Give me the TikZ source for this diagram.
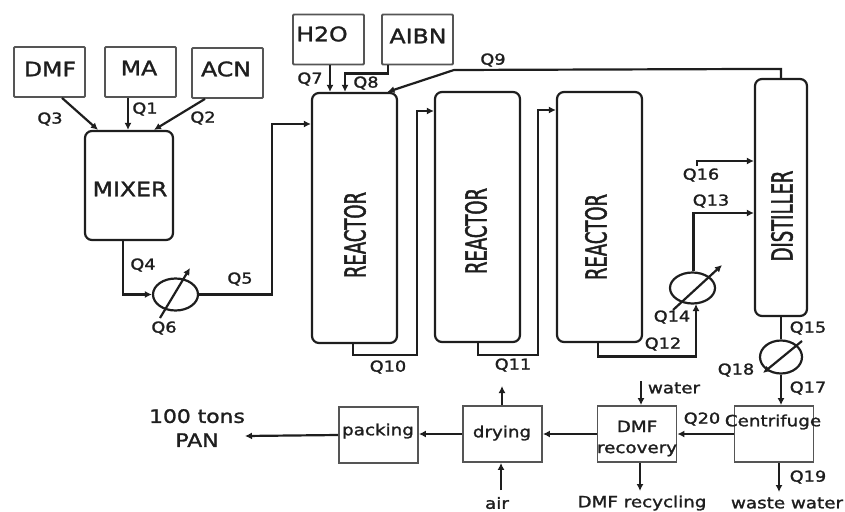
\documentclass[tikz,border=0pt]{standalone}
\usepackage{fontspec}
\setmainfont{DejaVu Sans}
\newfontfamily\widefont[FakeStretch=1.18,FakeBold=1.5]{DejaVu Sans}
\newfontfamily\narrowfont[FakeStretch=0.62,FakeBold=1.5]{DejaVu Sans}
\usetikzlibrary{arrows.meta,calc,shapes.geometric}
\definecolor{ink}{HTML}{1E1E1E}
\definecolor{boxline}{HTML}{555555}
\tikzset{
  feedbox/.style={draw=boxline,line width=1.8pt,rounded corners=1pt,inner sep=0pt,minimum width=71pt,minimum height=50pt},
  unitbox/.style={draw=boxline,line width=1.8pt,inner sep=0pt,minimum width=79pt,minimum height=56pt},
  vessel/.style={draw=ink,line width=2.2pt,rounded corners=7pt,inner sep=0pt},
  exch/.style={draw=ink,line width=2.2pt,ellipse,inner sep=0pt},
  flow/.style={draw=ink,line width=2.2pt,-{Latex[length=7pt,width=7pt]}},
  pipe/.style={draw=ink,line width=2.2pt},
  qlab/.style={font=\widefont\fontsize{15}{15}\selectfont,text=ink,inner sep=0pt},
  blab/.style={font=\widefont\fontsize{20}{22}\selectfont,text=ink,inner sep=0pt},
  slab/.style={font=\widefont\fontsize{15.5}{21}\selectfont,text=ink,inner sep=0pt,align=center},
  vlab/.style={font=\narrowfont\fontsize{29}{30}\selectfont,text=ink,inner sep=0pt,rotate=90},
}
\begin{document}
\begin{tikzpicture}[x=1pt,y=-1pt]
\useasboundingbox (0,0) rectangle (845,511);
% feed boxes
\node[feedbox] (dmf) at (49.5,72) {};
\node[feedbox] (ma) at (140.5,72) {};
\node[feedbox] (acn) at (227.5,73) {};
\node[feedbox] (hho) at (328.5,39.5) {};
\node[feedbox] (aibn) at (417.5,39.5) {};
\node[blab] (tdmf) at (50,69) {DMF};
\node[blab] (tma) at (139,68) {MA};
\node[blab] (tacn) at (226,69) {ACN};
\node[blab] (thho) at (322,34) {H2O};
\node[blab] (taibn) at (418,36) {AIBN};
% vessels
\node[vessel,minimum width=88pt,minimum height=109pt] (mixer) at (129,185.5) {};
\node[vessel,minimum width=85pt,minimum height=250pt] (r1) at (354.5,218) {};
\node[vessel,minimum width=85pt,minimum height=250pt] (r2) at (477.5,217) {};
\node[vessel,minimum width=85pt,minimum height=250pt] (r3) at (599.5,217) {};
\node[vessel,minimum width=52pt,minimum height=237pt] (dist) at (781,197.5) {};
\node[blab] (tmixer) at (130,189) {MIXER};
\node[vlab] (tr1) at (355,235) {REACTOR};
\node[vlab] (tr2) at (476,231) {REACTOR};
\node[vlab] (tr3) at (596,237) {REACTOR};
\node[vlab] (tdist) at (782,216) {DISTILLER};
% exchangers
\node[exch,minimum width=45pt,minimum height=32pt] (e1) at (175.5,294.5) {};
\node[exch,minimum width=45pt,minimum height=31pt] (e2) at (692.5,288) {};
\node[exch,minimum width=42pt,minimum height=33pt] (e3) at (781,357) {};
% units
\node[unitbox] (cent) at (774,434) {};
\node[unitbox] (rec) at (637,434) {};
\node[unitbox] (dry) at (502.5,434) {};
\node[unitbox] (pack) at (378.5,435) {};
\node[slab] (tcent) at (773,422) {Centrifuge};
\node[slab] (trec) at (637,438.5) {DMF\\recovery};
\node[slab] (tdry) at (502,433) {drying};
\node[slab] (tpack) at (378,431) {packing};
% free ends
\coordinate (fe1a) at (160,318); \coordinate (fe1b) at (190,268);
\coordinate (fe2a) at (673,310); \coordinate (fe2b) at (722,265);
\coordinate (fe3a) at (802,341); \coordinate (fe3b) at (763,373);
\coordinate (pan) at (245,436);
\coordinate (waterin) at (641,381);
\coordinate (airin) at (501,490);
\coordinate (dryup) at (502,386);
\coordinate (recycle) at (640,491);
\coordinate (wastew) at (779,492);
% feeds to mixer
\draw[flow] ([xshift=12.5pt]dmf.south) -- ([xshift=-31pt]mixer.north);
\draw[flow] ([xshift=-12.5pt]ma.south) -- ([xshift=-1pt]mixer.north);
\draw[flow] ([xshift=-22.5pt]acn.south) -- ([xshift=25pt]mixer.north);
% reactor feeds
\draw[flow] ([xshift=1.5pt]hho.south) -- ([xshift=-24.5pt]r1.north);
\draw[flow] ([xshift=-29.5pt]aibn.south) -- ++(0,8) -| ([xshift=-9.5pt]r1.north);
\draw[flow] (dist.north) -- ++(0,-9) -- (454,70) -- ([xshift=33pt]r1.north);
% mixer to reactor
\draw[flow] ([xshift=-6pt]mixer.south) |- (e1.west);
\draw[flow] (e1.east) -- (272,294.5) |- ([yshift=94pt]r1.west);
\draw[flow] (fe1a) -- (fe1b);
% reactor chain
\draw[flow] ([xshift=-1.5pt]r1.south) |- (417,355) |- ([yshift=106pt]r2.west);
\draw[flow] ([xshift=0.5pt]r2.south) |- (538,355) |- ([yshift=107pt]r3.west);
\draw[flow] ([xshift=-1.5pt]r3.south) |- (696,356.5) -- (696,304);
\draw[flow] (fe2a) -- (fe2b);
\draw[flow] ([xshift=1pt]e2.north) |- ([yshift=-15.5pt]dist.west);
\draw[flow] (697,166) -- (697,161) -- ([yshift=36.5pt]dist.west);
% distiller to centrifuge
\draw[pipe] (dist.south) -- (e3.north);
\draw[flow] (fe3a) -- (fe3b);
\draw[flow] (e3.south) -- ([xshift=7pt]cent.north);
% bottom train
\draw[flow] (cent.west) -- (rec.east);
\draw[flow] (rec.west) -- (dry.east);
\draw[flow] (dry.west) -- (pack.east |- dry.west);
\draw[flow] (pack.west) -- (pan);
\draw[flow] (waterin) -- ([xshift=4pt]rec.north);
\draw[flow] (airin) -- ([xshift=-1.5pt]dry.south);
\draw[flow] ([xshift=-0.5pt]dry.north) -- (dryup);
\draw[flow] ([xshift=3pt]rec.south) -- (recycle);
\draw[flow] ([xshift=5pt]cent.south) -- (wastew);
% stream labels
\node[qlab] (q1) at (145,109) {Q1};
\node[qlab] (q2) at (203,118) {Q2};
\node[qlab] (q3) at (50,119) {Q3};
\node[qlab] (q4) at (143,265) {Q4};
\node[qlab] (q5) at (240,279) {Q5};
\node[qlab] (q6) at (164,328) {Q6};
\node[qlab] (q7) at (310,79) {Q7};
\node[qlab] (q8) at (366,83) {Q8};
\node[qlab] (q9) at (493,60) {Q9};
\node[qlab] (q10) at (388,367) {Q10};
\node[qlab] (q11) at (513,365) {Q11};
\node[qlab] (q12) at (663,344) {Q12};
\node[qlab] (q13) at (711,201) {Q13};
\node[qlab] (q14) at (672,317) {Q14};
\node[qlab] (q15) at (808,328) {Q15};
\node[qlab] (q16) at (701,175) {Q16};
\node[qlab] (q17) at (808,388) {Q17};
\node[qlab] (q18) at (736,370) {Q18};
\node[qlab] (q19) at (808,477) {Q19};
\node[qlab] (q20) at (702,419) {Q20};
\node[slab] (twater) at (674,388) {water};
\node[slab] (tair) at (497,503) {air};
\node[slab] (trecyc) at (642,503) {DMF recycling};
\node[slab] (twaste) at (787,503) {waste water};
\node[font=\widefont\fontsize{18.5}{24}\selectfont,text=ink,inner sep=0pt,align=center] (tpan) at (197,428) {100 tons\\PAN\hspace{20pt}};
\end{tikzpicture}
\end{document}
